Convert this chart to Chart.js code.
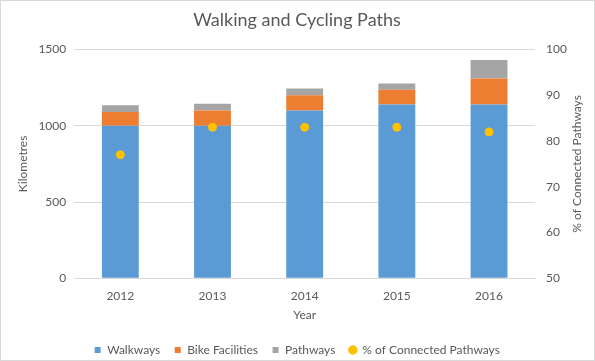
<!DOCTYPE html>
<html lang="en">
<head>
    <meta charset="UTF-8">
    <title>Walking and Cycling Paths</title>
    <script src="https://cdn.jsdelivr.net/npm/chart.js"></script>
    <style>
        html, body { margin: 0; padding: 0; background: #fff; }
        .frame {
            width: 595px;
            height: 361px;
            box-sizing: border-box;
            border: 1px solid #d9d9d9;
            position: relative;
        }
        canvas { display: block; }
    </style>
</head>
<body>
    <div class="frame">
        <canvas id="pathsChart" width="593" height="359"></canvas>
    </div>

    <script>
        // data
        const years = ['2012', '2013', '2014', '2015', '2016'];
        const walkways = [1000, 1000, 1100, 1140, 1140];
        const bikeFacilities = [90, 100, 100, 97, 170];
        const pathways = [45, 45, 45, 40, 122];
        const connectedPct = [77, 83, 83, 83, 82];

        const txt = '#595959';
        const grid = '#d9d9d9';
        const fontFamily = 'Lato, "Liberation Sans", sans-serif';
        const rightTitle = '% of Connected Pathways';

        // right axis title reads bottom-to-top like the left one
        const rightTitlePlugin = {
            id: 'rightTitle',
            afterDraw(chart) {
                const s = chart.scales.y1;
                const ctx = chart.ctx;
                ctx.save();
                ctx.translate(chart.width - 17, (s.top + s.bottom) / 2);
                ctx.rotate(-Math.PI / 2);
                ctx.fillStyle = txt;
                ctx.font = '12px ' + fontFamily;
                ctx.textAlign = 'center';
                ctx.textBaseline = 'middle';
                ctx.fillText(rightTitle, 0, 0);
                ctx.restore();
            }
        };

        new Chart(document.getElementById('pathsChart'), {
            type: 'bar',
            data: {
                labels: years,
                datasets: [
                    {
                        label: 'Walkways',
                        data: walkways,
                        backgroundColor: '#5b9bd5',
                        stack: 'km',
                        yAxisID: 'y',
                        pointStyle: 'rect',
                        order: 2
                    },
                    {
                        label: 'Bike Facilities',
                        data: bikeFacilities,
                        backgroundColor: '#ed7d31',
                        stack: 'km',
                        yAxisID: 'y',
                        pointStyle: 'rect',
                        order: 2
                    },
                    {
                        label: 'Pathways',
                        data: pathways,
                        backgroundColor: '#a5a5a5',
                        stack: 'km',
                        yAxisID: 'y',
                        pointStyle: 'rect',
                        order: 2
                    },
                    {
                        type: 'line',
                        label: rightTitle,
                        data: connectedPct,
                        yAxisID: 'y1',
                        showLine: false,
                        pointStyle: 'circle',
                        pointRadius: 4,
                        backgroundColor: '#ffc000',
                        borderColor: '#ffc000',
                        order: 1
                    }
                ]
            },
            plugins: [rightTitlePlugin],
            options: {
                responsive: false,
                animation: false,
                layout: { padding: { left: 15, right: 16, top: 2, bottom: -6 } },
                datasets: {
                    bar: { categoryPercentage: 0.4, barPercentage: 1 }
                },
                plugins: {
                    title: {
                        display: true,
                        text: 'Walking and Cycling Paths',
                        color: txt,
                        font: { family: fontFamily, size: 18, weight: 'normal' },
                        padding: { top: 6, bottom: 19 }
                    },
                    legend: {
                        position: 'bottom',
                        labels: {
                            usePointStyle: true,
                            boxWidth: 7,
                            boxHeight: 6,
                            padding: 14,
                            color: txt,
                            font: { family: fontFamily, size: 12 },
                            sort: (a, b) => a.datasetIndex - b.datasetIndex
                        }
                    },
                    tooltip: { enabled: false }
                },
                scales: {
                    x: {
                        stacked: true,
                        grid: { display: false },
                        border: { color: grid },
                        ticks: { color: txt, font: { family: fontFamily, size: 12 }, padding: 3 },
                        title: {
                            display: true,
                            text: 'Year',
                            color: txt,
                            font: { family: fontFamily, size: 12 },
                            padding: { top: 1, bottom: 8 }
                        }
                    },
                    y: {
                        stacked: true,
                        position: 'left',
                        min: 0,
                        max: 1500,
                        ticks: {
                            stepSize: 500,
                            color: txt,
                            font: { family: fontFamily, size: 12 },
                            padding: 8,
                            callback: v => String(v)
                        },
                        grid: { color: grid, drawTicks: false },
                        border: { display: false },
                        title: {
                            display: true,
                            text: 'Kilometres',
                            color: txt,
                            font: { family: fontFamily, size: 12 },
                            padding: { top: 0, bottom: 0 }
                        }
                    },
                    y1: {
                        position: 'right',
                        min: 50,
                        max: 100,
                        ticks: {
                            stepSize: 10,
                            color: txt,
                            font: { family: fontFamily, size: 12 },
                            padding: 11,
                            callback: v => String(v)
                        },
                        grid: { display: false, drawTicks: false },
                        border: { display: false }
                    }
                }
            }
        });
    </script>
</body>
</html>
